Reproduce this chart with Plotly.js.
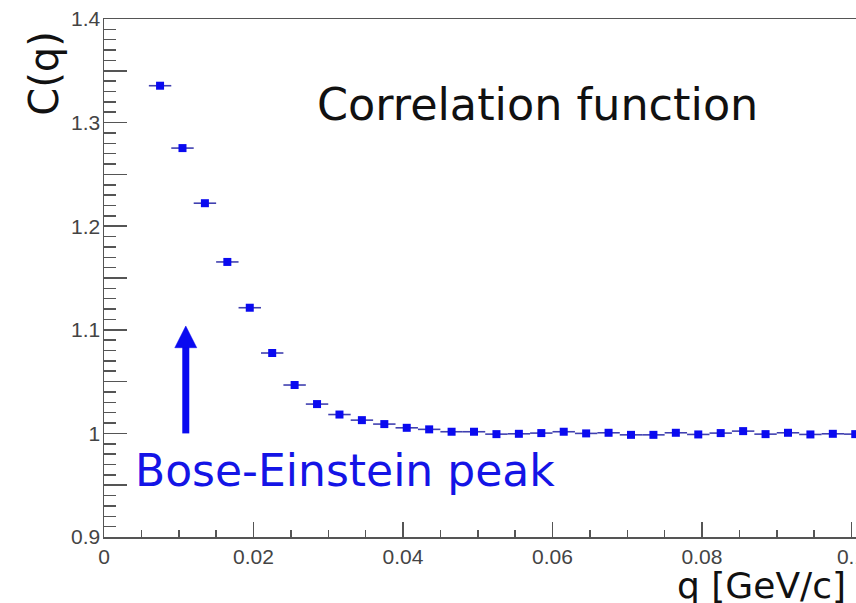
<!DOCTYPE html>
<html>
<head>
<meta charset="utf-8">
<script src="https://cdn.plot.ly/plotly-3.0.1.min.js"></script>
<style>
html,body{margin:0;padding:0;background:#fff;overflow:hidden;width:856px;height:603px;}
#chart{width:900px;height:603px;}
</style>
</head>
<body>
<div id="chart"></div>
<script>
// Bin centres q [GeV/c]
const qValues = [0.0075,0.0105,0.0135,0.0165,0.0195,0.0225,0.0255,0.0285,0.0315,0.0345,
                 0.0375,0.0405,0.0435,0.0465,0.0495,0.0525,0.0555,0.0585,0.0615,0.0645,
                 0.0675,0.0705,0.0735,0.0765,0.0795,0.0825,0.0855,0.0885,0.0915,0.0945,
                 0.0975,0.1005];
// Correlation function C(q)
const cValues = [1.3356,1.2754,1.2222,1.1655,1.1213,1.0776,1.0467,1.0283,1.0182,1.0128,
                 1.0090,1.0054,1.0039,1.0016,1.0016,0.9993,0.9996,1.0003,1.0016,1.0000,
                 1.0006,0.9986,0.9986,1.0006,0.9990,1.0003,1.0022,0.9993,1.0006,0.9990,
                 0.9996,0.9993];
const qHalfBin = 0.0015;

const xTickVals = [0,0.02,0.04,0.06,0.08,0.1];
const xTickText = ['0','0.02','0.04','0.06','0.08','0.1'];
const yTickVals = [0.9,0.95,1.0,1.05,1.1,1.15,1.2,1.25,1.3,1.35,1.4];
const yTickText = ['0.9','','1','','1.1','','1.2','','1.3','','1.4'];

const titleText = 'Correlation function';
const peakText = 'Bose-Einstein peak';
const xTitle = 'q [GeV/c]';
const yTitle = 'C(q)';

const axisColor = '#555555';
const blue = '#0a0af0';
const tickFont = {size: 21, color: '#444', family: 'Liberation Sans, Arial, sans-serif'};

const trace = {
  x: qValues, y: cValues, type: 'scatter', mode: 'markers',
  marker: {symbol: 'square', size: 8, color: blue, line: {width: 0}},
  error_x: {type: 'constant', value: qHalfBin, color: '#4040b0', thickness: 1.6, width: 0},
  hoverinfo: 'x+y', showlegend: false
};

const layout = {
  width: 900, height: 603,
  margin: {l: 104, r: 44, t: 19, b: 66},
  paper_bgcolor: '#ffffff', plot_bgcolor: '#ffffff',
  font: {family: 'Liberation Sans, Arial, sans-serif', color: '#444'},
  xaxis: {
    range: [0, 0.1006], showgrid: false, zeroline: false,
    showline: true, linecolor: axisColor, linewidth: 1.5, mirror: true,
    tickmode: 'array', tickvals: xTickVals, ticktext: xTickText,
    ticks: 'inside', ticklen: 15, tickwidth: 1.5, tickcolor: axisColor,
    tickfont: tickFont,
    minor: {tickmode: 'linear', tick0: 0, dtick: 0.005, ticks: 'inside', ticklen: 7, tickwidth: 1.5, tickcolor: axisColor, showgrid: false}
  },
  yaxis: {
    range: [0.9, 1.4], showgrid: false, zeroline: false,
    showline: true, linecolor: axisColor, linewidth: 1.5, mirror: false,
    tickmode: 'array', tickvals: yTickVals, ticktext: yTickText,
    ticks: 'inside', ticklen: 23, tickwidth: 1.5, tickcolor: axisColor,
    tickfont: tickFont, ticklabelstandoff: -2,
    minor: {tickmode: 'linear', tick0: 0.9, dtick: 0.01, ticks: 'inside', ticklen: 12, tickwidth: 1.5, tickcolor: axisColor, showgrid: false}
  },
  shapes: [
    {type: 'line', xref: 'x', yref: 'y', x0: 0.01094, x1: 0.01094, y0: 1.0, y1: 1.084,
     line: {color: blue, width: 7}},
    {type: 'path', xref: 'x', yref: 'y',
     path: 'M 0.00947 1.0827 L 0.01241 1.0827 L 0.01094 1.1037 Z',
     fillcolor: blue, line: {color: blue, width: 0.5}}
  ],
  annotations: [
    {text: titleText, xref: 'paper', yref: 'paper', x: 0.577, y: 0.834, xanchor: 'center', yanchor: 'middle',
     showarrow: false, font: {family: 'DejaVu Sans', size: 44.5, color: '#111'}},
    {text: peakText, xref: 'paper', yref: 'paper', x: 0.038, y: 0.128, xanchor: 'left', yanchor: 'middle',
     showarrow: false, font: {family: 'DejaVu Sans', size: 44, color: '#1414e6'}},
    {text: xTitle, xref: 'paper', yref: 'paper', x: 0.989, y: -0.094, xanchor: 'right', yanchor: 'middle',
     showarrow: false, font: {family: 'DejaVu Sans', size: 36, color: '#111'}},
    {text: yTitle, xref: 'paper', yref: 'paper', x: -0.08, y: 0.896, xanchor: 'center', yanchor: 'middle',
     textangle: -90, showarrow: false, font: {family: 'DejaVu Sans', size: 40, color: '#111'}}
  ]
};

Plotly.newPlot('chart', [trace], layout, {displayModeBar: false, staticPlot: true});
</script>
</body>
</html>
